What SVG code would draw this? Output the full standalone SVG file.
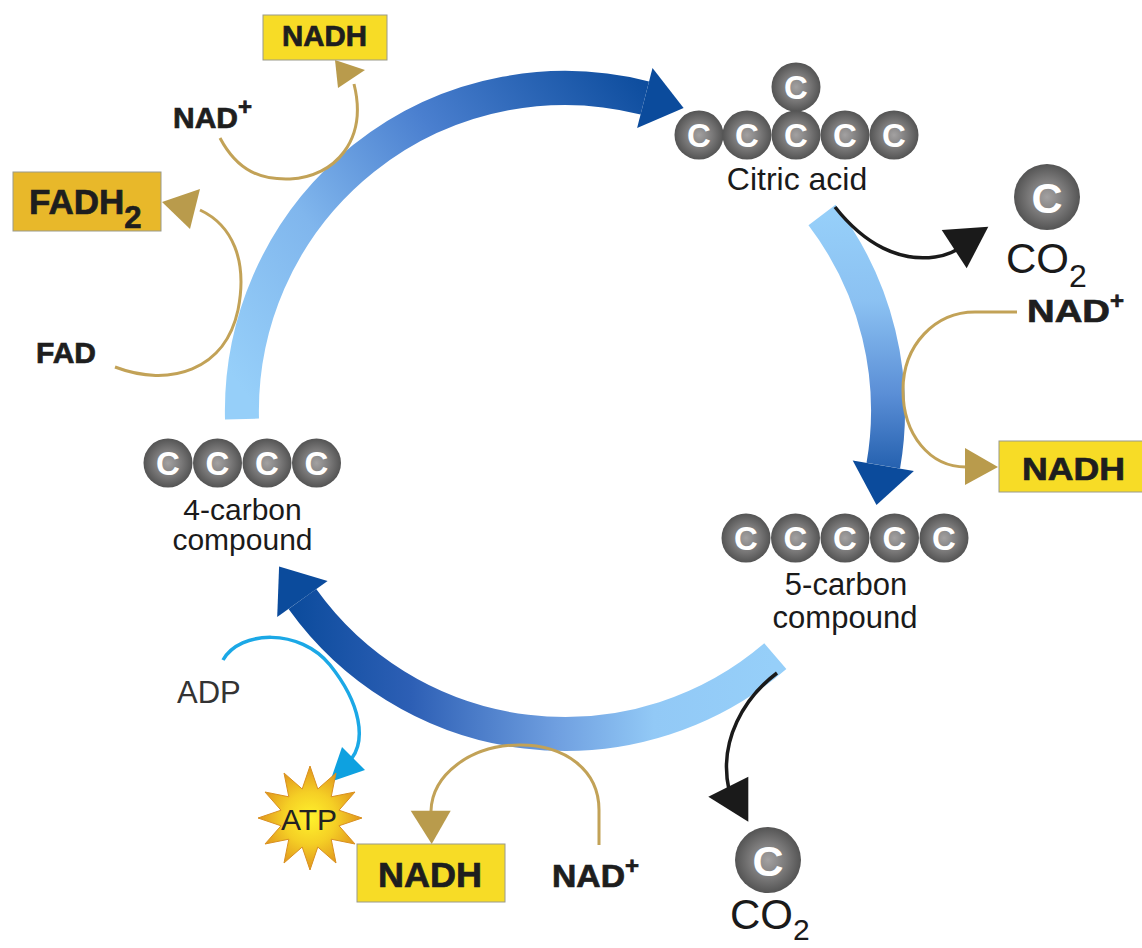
<svg xmlns="http://www.w3.org/2000/svg" width="1142" height="948" viewBox="0 0 1142 948">
<defs>
<style>
text{font-family:"Liberation Sans",Arial,sans-serif}
.b{font-weight:bold;fill:#1e1e1e;stroke:#1e1e1e;stroke-width:0.7}
.r{fill:#1a1a1a}
.cl{font-weight:bold;fill:#ffffff;text-anchor:middle}
.mid{text-anchor:middle}
.gold{fill:none;stroke:#c2a257;stroke-width:3}
.goldh{fill:#b99b4c}
.blk{fill:none;stroke:#1a1a1a;stroke-width:3.5}
.blkh{fill:#1a1a1a}
.band{fill:none;stroke-width:34}
.head{fill:#0b4b9c}
.boxy{fill:#f7dc26;stroke:#9a9a8a;stroke-width:1}
.boxo{fill:#e8b82a;stroke:#9a9a8a;stroke-width:1}
</style>
<radialGradient id="sph" cx="50%" cy="50%" r="50%">
<stop offset="0" stop-color="#a3a1a1"/>
<stop offset="0.55" stop-color="#7a7979"/>
<stop offset="1" stop-color="#545454"/>
</radialGradient>
<radialGradient id="star" cx="50%" cy="50%" r="50%">
<stop offset="0" stop-color="#fff22c"/>
<stop offset="0.5" stop-color="#f5cf25"/>
<stop offset="1" stop-color="#e0951d"/>
</radialGradient>
<linearGradient id="g1" gradientUnits="userSpaceOnUse" x1="250" y1="400" x2="660" y2="90">
<stop offset="0" stop-color="#96cff9"/>
<stop offset="0.3" stop-color="#80b6ed"/>
<stop offset="0.6" stop-color="#4a7fcf"/>
<stop offset="1" stop-color="#0b4b9c"/>
</linearGradient>
<linearGradient id="g2" gradientUnits="userSpaceOnUse" x1="0" y1="215" x2="0" y2="505">
<stop offset="0" stop-color="#96cff9"/>
<stop offset="0.3" stop-color="#8bc1f2"/>
<stop offset="0.62" stop-color="#5a8ed6"/>
<stop offset="1" stop-color="#0b4b9c"/>
</linearGradient>
<linearGradient id="g3" gradientUnits="userSpaceOnUse" x1="775" y1="0" x2="290" y2="0">
<stop offset="0" stop-color="#96cff9"/>
<stop offset="0.25" stop-color="#92c9f6"/>
<stop offset="0.45" stop-color="#6f9fe0"/>
<stop offset="0.75" stop-color="#2d5fb5"/>
<stop offset="1" stop-color="#0b4b9c"/>
</linearGradient>
<g id="atom"><circle r="24.5" fill="url(#sph)"/><text class="cl" y="12" font-size="33">C</text></g>
<g id="atomL"><circle r="33" fill="url(#sph)"/><text class="cl" y="15.5" font-size="43">C</text></g>
</defs>
<rect width="1142" height="948" fill="#ffffff"/>

<g id="connectors">
<g id="cycle-arrows">
<path class="band" stroke="url(#g1)" d="M242,419 A323,323 0 0 1 644.8,98"/>
<polygon class="head" points="683.6,107.9 652.5,68 637.1,128"/>
<path class="band" stroke="url(#g2)" d="M822,215 A323,323 0 0 1 883.3,465.7"/>
<polygon class="head" points="876.5,505.1 913.9,470.9 852.7,460.5"/>
<path class="band" stroke="url(#g3)" d="M775.3,656.2 A323,323 0 0 1 302.4,599"/>
<polygon class="head" points="279.1,566.5 277.2,617 327.6,581"/>
</g>
<g id="nad-nadh-top">
<path class="gold" d="M220,138 C238,172 262,180 290,179 C335,177 368,140 354,84"/>
<polygon class="goldh" points="335,60 338,88 365,70"/>
</g>
<g id="fad-fadh2">
<path class="gold" d="M115,367 C170,388 225,370 238,310 C248,260 232,225 200,210"/>
<polygon class="goldh" points="162,202 200,189 190,229"/>
</g>
<g id="co2-top">
<path class="blk" d="M835,207 C865,245 900,262 935,257 C948,255 955,252 962,246"/>
<polygon class="blkh" points="941.7,230 988.3,226.7 966.7,268.3"/>
</g>
<g id="nad-nadh-right">
<path class="gold" d="M1017,312 L975,312 C935,312 903,345 903,390 C903,435 930,467 966,467"/>
<polygon class="goldh" points="965,448 965,485 998,467"/>
</g>
<g id="co2-bottom">
<path class="blk" d="M777,673 C745,697 718,740 729,790"/>
<polygon class="blkh" points="708.3,796.7 748.3,776.7 748.3,821.7"/>
</g>
<g id="nad-nadh-bottom">
<path class="gold" d="M599,845 L599,810 C599,770 565,745 520,745 C470,745 432,775 431,811"/>
<polygon class="goldh" points="410.7,810.7 450.7,810.7 431.7,844"/>
</g>
<g id="adp-atp">
<path fill="none" stroke="#1ba8e6" stroke-width="3.5" d="M223,660 C240,630 300,628 330,665 C362,705 365,740 352,758"/>
<polygon fill="#0ea1e0" points="330,782 342,747 365,770"/>
</g>
</g>

<g id="citric-acid">
<use href="#atom" x="796" y="87"/>
<use href="#atom" x="699" y="135"/>
<use href="#atom" x="747" y="135"/>
<use href="#atom" x="796" y="135"/>
<use href="#atom" x="845" y="135"/>
<use href="#atom" x="894" y="135"/>
<text class="r mid" x="797" y="190" font-size="32">Citric acid</text>
</g>

<g id="five-carbon">
<use href="#atom" x="746" y="538"/>
<use href="#atom" x="795.5" y="538"/>
<use href="#atom" x="845" y="538"/>
<use href="#atom" x="894.5" y="538"/>
<use href="#atom" x="944" y="538"/>
<text class="r mid" x="846" y="595" font-size="31">5-carbon</text>
<text class="r mid" x="845" y="628" font-size="31">compound</text>
</g>

<g id="four-carbon">
<use href="#atom" x="168" y="463"/>
<use href="#atom" x="217.5" y="463"/>
<use href="#atom" x="267" y="463"/>
<use href="#atom" x="316.5" y="463"/>
<text class="r mid" x="242.5" y="520" font-size="30">4-carbon</text>
<text class="r mid" x="242.5" y="550" font-size="30">compound</text>
</g>

<g id="co2-top-node">
<use href="#atomL" x="1047" y="197"/>
<text class="r" x="1006" y="273" font-size="42">CO<tspan font-size="32" dy="14">2</tspan></text>
</g>

<g id="co2-bottom-node">
<use href="#atomL" x="768" y="860"/>
<text class="r" x="730" y="929" font-size="42">CO<tspan font-size="30" dy="11">2</tspan></text>
</g>

<g id="nadh-top">
<rect class="boxy" x="263" y="15" width="124" height="45"/>
<text class="b" x="282" y="46" font-size="29" textLength="85" lengthAdjust="spacingAndGlyphs">NADH</text>
</g>
<g id="nad-top">
<text class="b" x="173" y="128" font-size="30">NAD<tspan font-size="24" dy="-13">+</tspan></text>
</g>
<g id="fadh2">
<rect class="boxo" x="13" y="172" width="148" height="59"/>
<text class="b" x="29" y="214" font-size="35">FADH<tspan font-size="31" dy="14">2</tspan></text>
</g>
<g id="fad">
<text class="b" x="36" y="363" font-size="30">FAD</text>
</g>
<g id="nad-right">
<text class="b" x="1027" y="322" font-size="31"><tspan textLength="83" lengthAdjust="spacingAndGlyphs">NAD</tspan><tspan font-size="24" dy="-13">+</tspan></text>
</g>
<g id="nadh-right">
<rect class="boxy" x="999" y="441" width="145" height="51"/>
<text class="b" x="1022" y="480" font-size="31" textLength="103" lengthAdjust="spacingAndGlyphs">NADH</text>
</g>
<g id="adp">
<text x="177" y="703" font-size="31" fill="#333333">ADP</text>
</g>
<g id="atp">
<polygon fill="url(#star)" stroke="#d99020" stroke-width="1" points="310,766 317.8,789 336,773 331.2,796.8 355,792 339,810.2 362,818 339,825.8 355,844 331.2,839.2 336,863 317.8,847 310,870 302.2,847 284,863 288.8,839.2 265,844 281,825.8 258,818 281,810.2 265,792 288.8,796.8 284,773 302.2,789"/>
<text class="mid" x="309" y="830" font-size="30" fill="#222222">ATP</text>
</g>
<g id="nadh-bottom">
<rect class="boxy" x="357" y="844" width="148" height="58"/>
<text class="b" x="378" y="887" font-size="35" textLength="104" lengthAdjust="spacingAndGlyphs">NADH</text>
</g>
<g id="nad-bottom">
<text class="b" x="552" y="887" font-size="31"><tspan textLength="73" lengthAdjust="spacingAndGlyphs">NAD</tspan><tspan font-size="24" dy="-13">+</tspan></text>
</g>
</svg>
